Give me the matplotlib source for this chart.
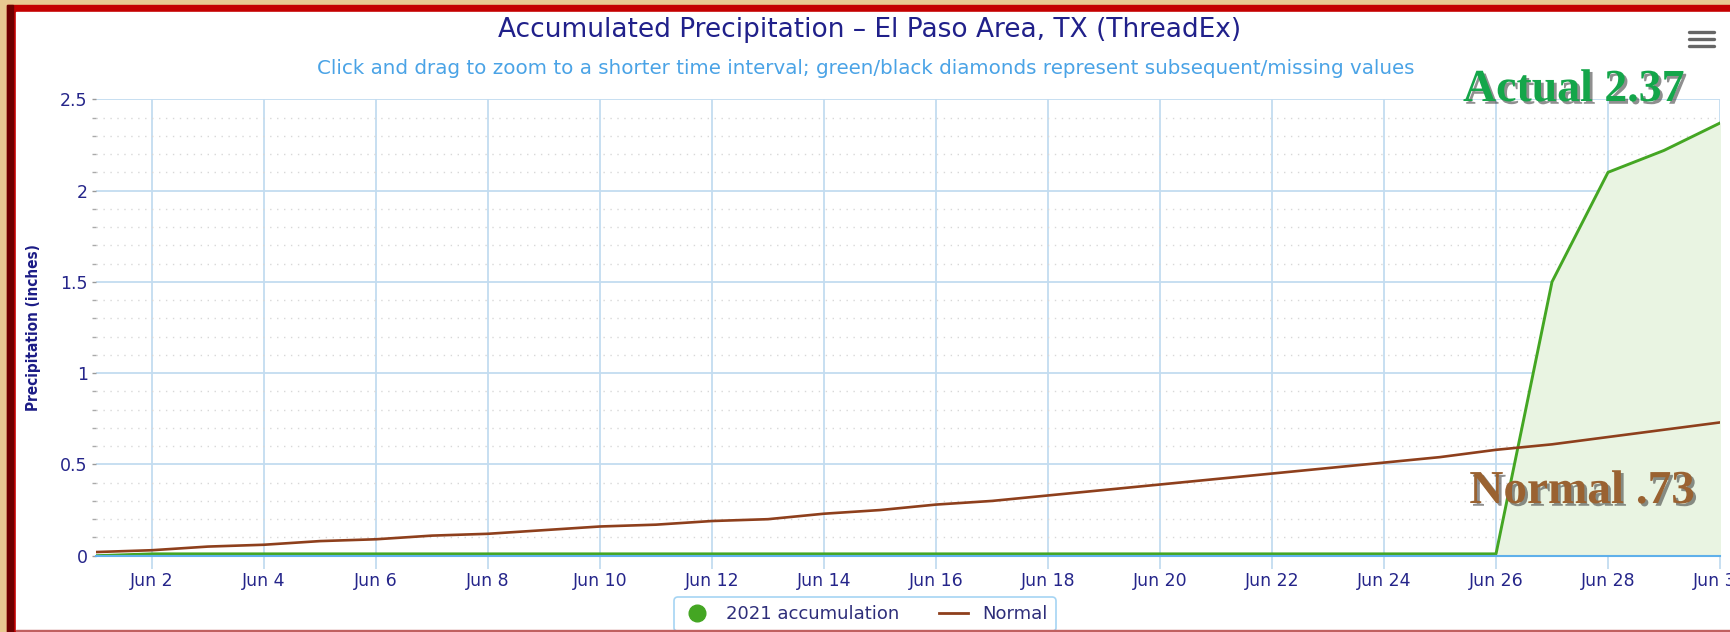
import matplotlib
matplotlib.use("Agg")
import matplotlib.pyplot as plt
import matplotlib.patheffects as pe
from matplotlib.lines import Line2D
from matplotlib.patches import Rectangle

# data (June, day of month)
days = list(range(1, 31))
actual_2021 = [0.00, 0.01, 0.01, 0.01, 0.01, 0.01, 0.01, 0.01, 0.01, 0.01,
               0.01, 0.01, 0.01, 0.01, 0.01, 0.01, 0.01, 0.01, 0.01, 0.01,
               0.01, 0.01, 0.01, 0.01, 0.01, 0.01, 1.50, 2.10, 2.22, 2.37]
normal = [0.02, 0.03, 0.05, 0.06, 0.08, 0.09, 0.11, 0.12, 0.14, 0.16,
          0.17, 0.19, 0.20, 0.23, 0.25, 0.28, 0.30, 0.33, 0.36, 0.39,
          0.42, 0.45, 0.48, 0.51, 0.54, 0.58, 0.61, 0.65, 0.69, 0.73]
tick_days = list(range(2, 31, 2))
tick_labels = ["Jun %d" % d for d in tick_days]
y_ticks = [0, 0.5, 1, 1.5, 2, 2.5]
y_tick_labels = ["0", "0.5", "1", "1.5", "2", "2.5"]

W, H = 1731, 632
navy = "#25258a"
grid_blue = "#c3dcf0"

fig = plt.figure(figsize=(W / 100, H / 100), dpi=100)
fig.patch.set_facecolor("#e8c991")


def fx(x):
    return x / W


def fy(y):
    return 1 - y / H


# frame: red border + white panel
fig.patches.append(Rectangle((fx(7), fy(632)), fx(W - 7), 627 / H,
                             transform=fig.transFigure, color="#c40000", zorder=-3))
fig.patches.append(Rectangle((fx(7), fy(632)), fx(6), 627 / H,
                             transform=fig.transFigure, color="#6e0000", zorder=-3))
fig.patches.append(Rectangle((fx(16), fy(630)), fx(W - 16), 618 / H,
                             transform=fig.transFigure, color="white", zorder=-2))

ax = fig.add_axes([fx(96), fy(555.7), fx(1720 - 96), (555.7 - 99.3) / H])
ax.set_zorder(1)
ax.set_facecolor("white")

ax.fill_between(days, 0, actual_2021, color="#e9f4e2", zorder=1)
ax.plot(days, actual_2021, color="#44a623", lw=2.1, zorder=3)
ax.plot(days, normal, color="#8e3f1c", lw=1.9, zorder=4)

ax.set_xlim(1, 30)
ax.set_ylim(0, 2.5)
ax.set_xticks(tick_days)
ax.set_xticklabels(tick_labels, color=navy, fontsize=12.5)
ax.set_yticks(y_ticks)
ax.set_yticklabels(y_tick_labels, color=navy, fontsize=12.5)
ax.set_yticks([v / 10 for v in range(26) if v % 5], minor=True)

ax.grid(True, which="major", color=grid_blue, lw=1.3, zorder=0)
ax.grid(True, which="minor", axis="y", color="#d8d8d8", lw=1.0,
        linestyle=(0, (1, 4)), zorder=0)
ax.set_axisbelow(True)

for s in ["top", "right", "left"]:
    ax.spines[s].set_visible(False)
ax.spines["bottom"].set_color("#5fb0ea")
ax.spines["bottom"].set_linewidth(1.5)
ax.spines["bottom"].set_zorder(5)

ax.tick_params(axis="x", length=9, color=grid_blue, width=1.3, pad=3)
ax.tick_params(axis="y", which="major", length=3, color="#999999", width=1, pad=3)
ax.tick_params(axis="y", which="minor", length=3, color="#aaaaaa", width=1)

ax.set_ylabel("Precipitation (inches)", color="#1c1c86", fontsize=11,
              fontweight="bold", fontstretch="condensed")
ax.yaxis.set_label_coords(fx(41 - 96) / fx(1720 - 96), 0.5)

# titles
fig.text(fx(870), fy(30), "Accumulated Precipitation \u2013 El Paso Area, TX (ThreadEx)",
         ha="center", va="center", fontsize=19, color="#20208a")
fig.text(fx(866), fy(68),
         "Click and drag to zoom to a shorter time interval; green/black diamonds represent subsequent/missing values",
         ha="center", va="center", fontsize=14.3, color="#4aa3e6")

# menu icon
for yy in (32, 39, 46):
    fig.add_artist(Line2D([fx(1689), fx(1714)], [fy(yy), fy(yy)], color="#666666",
                          lw=2.4, solid_capstyle="round", transform=fig.transFigure))

# big annotations
shadow = [pe.SimplePatchShadow(offset=(2, -2), shadow_rgbFace="#333333", alpha=0.55),
          pe.Normal()]
fig.text(fx(1574), fy(101), "Actual 2.37", ha="center", va="baseline",
         fontsize=33, fontweight="bold", family="Liberation Serif",
         color="#14a64a", path_effects=shadow, zorder=10)
fig.text(fx(1582), fy(503), "Normal .73", ha="center", va="baseline",
         fontsize=34, fontweight="bold", family="Liberation Serif",
         color="#9a6231", path_effects=shadow, zorder=10)

# legend
handles = [Line2D([], [], color="#44a623", marker="o", linestyle="none", markersize=12),
           Line2D([], [], color="#8e3f1c", lw=2)]
leg = fig.legend(handles, ["2021 accumulation", "Normal"], loc="upper center",
                 bbox_to_anchor=(fx(865), fy(597)), ncol=2, frameon=True,
                 fontsize=13, handlelength=1.6, columnspacing=2.2,
                 borderpad=0.45, borderaxespad=0, fancybox=True)
leg.set_zorder(15)
leg.get_frame().set_edgecolor("#8fcaf0")
leg.get_frame().set_linewidth(1.2)
for t in leg.get_texts():
    t.set_color("#2e2e7a")

fig.add_artist(Rectangle((fx(16), fy(632)), fx(W - 16), 2 / H, transform=fig.transFigure,
                         color="#c06060", zorder=20))

fig.savefig("out.png", dpi=100, facecolor=fig.get_facecolor())
